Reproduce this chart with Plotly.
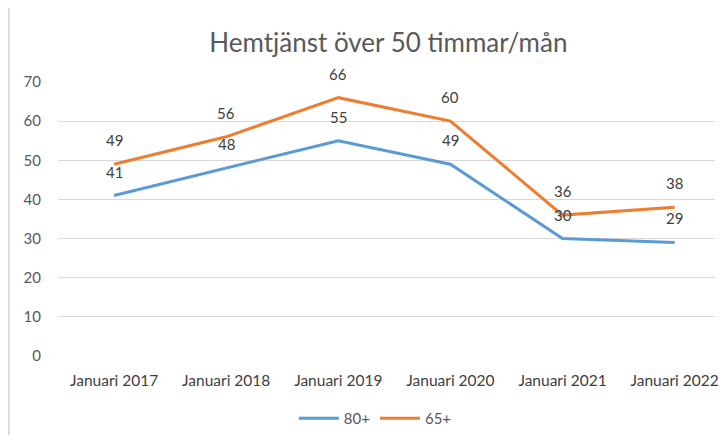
import plotly.graph_objects as go

categories = ["Januari 2017", "Januari 2018", "Januari 2019", "Januari 2020", "Januari 2021", "Januari 2022"]
series_80 = [41, 48, 55, 49, 30, 29]
series_65 = [49, 56, 66, 60, 36, 38]
y_ticks = [0, 10, 20, 30, 40, 50, 60, 70]

BLUE = "#5B9BD5"
ORANGE = "#ED7D31"
FONT = "Lato, Open Sans, sans-serif"

fig = go.Figure()
fig.add_trace(go.Scatter(x=categories, y=series_80, mode="lines", name="80+",
                         line=dict(color=BLUE, width=3), hoverinfo="skip"))
fig.add_trace(go.Scatter(x=categories, y=series_65, mode="lines", name="65+",
                         line=dict(color=ORANGE, width=3), hoverinfo="skip"))

annotations = []
for ser in (series_80, series_65):
    for c, v in zip(categories, ser):
        annotations.append(dict(x=c, y=v, text=str(v), showarrow=False, xref="x", yref="y",
                                yshift=24, font=dict(family=FONT, size=15, color="#404040")))

# page body has an 8px default margin; compensate so the plot lands at the reference position
fig.update_layout(
    width=711, height=427,
    paper_bgcolor="white", plot_bgcolor="white",
    margin=dict(l=50, r=0, t=74, b=76),
    title=dict(text="Hemtjänst över 50 timmar/mån", x=0.535, xanchor="center", y=0.918, yanchor="middle",
               font=dict(family=FONT, size=26, color="#595959")),
    xaxis=dict(range=[-0.5, 5.36], showgrid=False, showline=False, zeroline=False,
               ticks="", tickfont=dict(family=FONT, size=15.5, color="#404040"), ticklabelstandoff=13),
    yaxis=dict(range=[0, 70], tickvals=y_ticks, showgrid=True, gridcolor="#D9D9D9", gridwidth=1,
               zeroline=False, showline=False, ticks="",
               tickfont=dict(family=FONT, size=15, color="#595959"), ticklabelstandoff=16),
    showlegend=True,
    legend=dict(orientation="h", x=0.483, xanchor="center", y=-0.23, yanchor="middle",
                font=dict(family=FONT, size=15, color="#595959"), itemwidth=40),
    annotations=annotations,
    shapes=[dict(type="line", xref="paper", yref="paper", x0=-0.075, x1=-0.075, y0=-0.31, y1=1.27,
                 line=dict(color="#D9D9D9", width=2))],
)

fig.write_html("out.html")
